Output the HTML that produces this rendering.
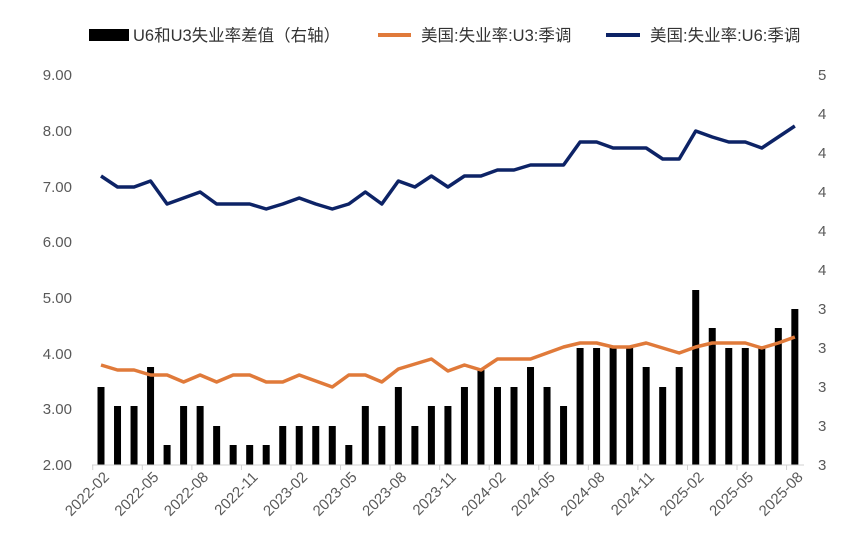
<!DOCTYPE html>
<html><head><meta charset="utf-8"><style>
body{margin:0;background:#fff;}
svg text{font-family:"Liberation Sans","Noto Sans CJK SC",sans-serif;}
</style></head><body>
<svg width="845" height="554" xmlns="http://www.w3.org/2000/svg">
<rect width="845" height="554" fill="#fff"/>
<g id="leg" font-size="16.5" fill="#333">
<rect x="89" y="29" width="40" height="12" fill="#000"/>
<text x="133" y="41">U6和U3失业率差值（右轴）</text>
<line x1="378" y1="35" x2="411" y2="35" stroke="#E07A3A" stroke-width="4"/>
<text x="421" y="41">美国:失业率:U3:季调</text>
<line x1="606" y1="35" x2="640" y2="35" stroke="#0D2366" stroke-width="4"/>
<text x="650" y="41">美国:失业率:U6:季调</text>
</g>
<g font-size="15" fill="#595959" text-anchor="end">
<text x="72" y="80">9.00</text><text x="72" y="136">8.00</text><text x="72" y="192">7.00</text><text x="72" y="247">6.00</text><text x="72" y="303">5.00</text><text x="72" y="359">4.00</text><text x="72" y="414">3.00</text><text x="72" y="470">2.00</text>
</g>
<g font-size="15" fill="#595959">
<text x="818" y="80">5</text><text x="818" y="119">4</text><text x="818" y="158">4</text><text x="818" y="197">4</text><text x="818" y="236">4</text><text x="818" y="275">4</text><text x="818" y="314">3</text><text x="818" y="353">3</text><text x="818" y="392">3</text><text x="818" y="431">3</text><text x="818" y="470">3</text>
</g>
<g id="bars" fill="#000"></g>
<line x1="92" y1="465" x2="804" y2="465" stroke="#d0d0d0" stroke-width="1"/>
<g id="ticks" stroke="#d0d0d0"></g>
<polyline id="u3" fill="none" stroke="#E07A3A" stroke-width="3.5" stroke-linejoin="round"/>
<polyline id="u6" fill="none" stroke="#0D2366" stroke-width="3.5" stroke-linejoin="round"/>
<g id="xl" font-size="15" fill="#595959"></g>
</svg>
<script>
var bars=[387,406,406,367,445,406,406,426,445,445,445,426,426,426,426,445,406,426,387,426,406,406,387,370,387,387,367,387,406,348,348,348,348,367,387,367,290,328,348,348,348,328,309];
var u3=[365,370,370,375,375,382,375,382,375,375,382,382,375,381,387,375,375,382,369,364,359,371,365,370,359,359,359,353,347,343,343,347,347,343,348,353,347,343,343,343,348,343,337];
var u6=[176,187,187,181,204,198,192,204,204,204,209,204,198,204,209,204,192,204,181,187,176,187,176,176,170,170,165,165,165,142,142,148,148,148,159,159,131,137,142,142,148,137,126];
var ns="http://www.w3.org/2000/svg";
function X(i){return 101+i*16.52;}
var b=document.getElementById('bars'),p3=[],p6=[];
bars.forEach(function(t,i){var r=document.createElementNS(ns,'rect');r.setAttribute('x',X(i)-3.5);r.setAttribute('y',t);r.setAttribute('width',7);r.setAttribute('height',465-t);b.appendChild(r);
p3.push(X(i)+','+u3[i]);p6.push(X(i)+','+u6[i]);});
document.getElementById('u3').setAttribute('points',p3.join(' '));
document.getElementById('u6').setAttribute('points',p6.join(' '));
var tk=document.getElementById('ticks'),xl=document.getElementById('xl');
for(var i=0;i<43;i+=3){var y=2022+Math.floor((1+i)/12),m=(1+i)%12+1;
var l=document.createElementNS(ns,'line');var xx=X(i)-8.26;l.setAttribute('x1',xx);l.setAttribute('x2',xx);l.setAttribute('y1',465);l.setAttribute('y2',470);tk.appendChild(l);
var t=document.createElementNS(ns,'text');t.setAttribute('text-anchor','end');t.setAttribute('transform','translate('+(X(i)+9)+',478) rotate(-45)');t.textContent=y+'-'+(m<10?'0':'')+m;xl.appendChild(t);}
</script>
</body></html>
